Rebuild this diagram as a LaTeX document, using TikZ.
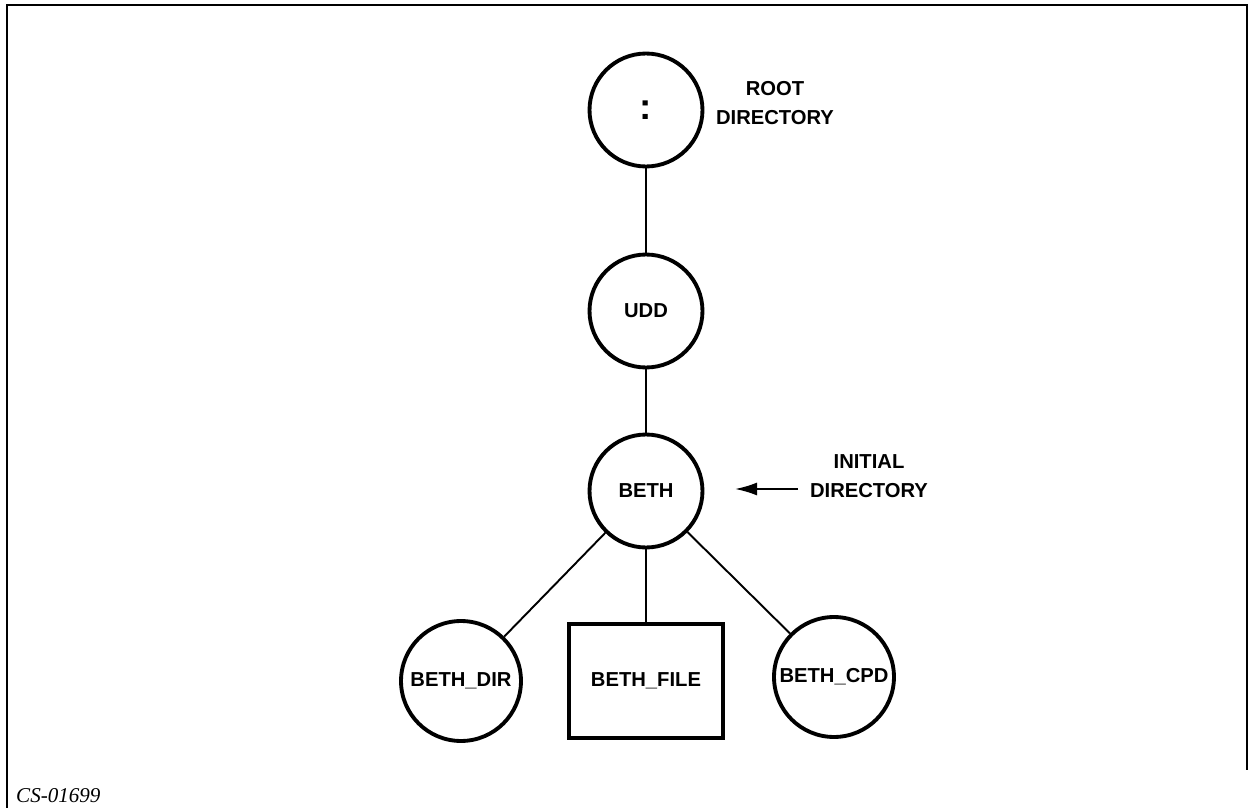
\documentclass[tikz,border=0pt]{standalone}
\usepackage{fontspec}
\setmainfont{Liberation Sans}
\newfontfamily\csfont{Liberation Serif}
\usetikzlibrary{arrows.meta}

\tikzset{
dirnode/.style={draw, circle, line width=2.2pt, minimum size=2.26cm, inner sep=0pt,
  font=\fontsize{11.5}{13}\selectfont\bfseries},
leafdir/.style={dirnode, minimum size=2.4cm},
filenode/.style={draw, rectangle, line width=2.6pt, minimum width=3.08cm, minimum height=2.28cm,
  inner sep=0pt, font=\fontsize{11.5}{13}\selectfont\bfseries},
lbl/.style={align=center, font=\fontsize{11.5}{16.5}\selectfont\bfseries},
link/.style={line width=1.1pt}
}

\begin{document}
\begin{tikzpicture}[x=0.02cm, y=-0.02cm]
\useasboundingbox (0,0) rectangle (1249,808);
% frame, open at the bottom
\draw[line width=0.9pt] (7,808) -- (7,5) -- (1247,5) -- (1247,770);

% tree
\node[dirnode, font=\fontsize{21}{21}\selectfont\bfseries] (root) at (646,110) {:};
\node[dirnode] (udd) at (646,311) {UDD};
\node[dirnode] (beth) at (646,491) {BETH};
\node[leafdir] (bdir) at (461,681) {BETH\_DIR};
\node[filenode] (bfile) at (646,681) {BETH\_FILE};
\node[leafdir] (bcpd) at (834,677) {BETH\_CPD};

\draw[link] (root) -- (udd);
\draw[link] (udd) -- (beth);
\draw[link] (beth) -- (bdir);
\draw[link] (beth) -- (bfile);
\draw[link] (beth) -- (bcpd);

% labels
\node[lbl] (rootlbl) at (775,103) {ROOT\\DIRECTORY};
\node[lbl] (initlbl) at (869,476) {INITIAL\\DIRECTORY};
\coordinate (arrtail) at (798,489);
\coordinate (arrtip) at (735,489);
\draw[link, -{Latex[length=4.4mm,width=2.6mm]}] (arrtail) -- (arrtip);

\node[anchor=west, font=\csfont\itshape\fontsize{12}{14}\selectfont] (csno) at (10,796) {CS-01699};
\end{tikzpicture}
\end{document}
